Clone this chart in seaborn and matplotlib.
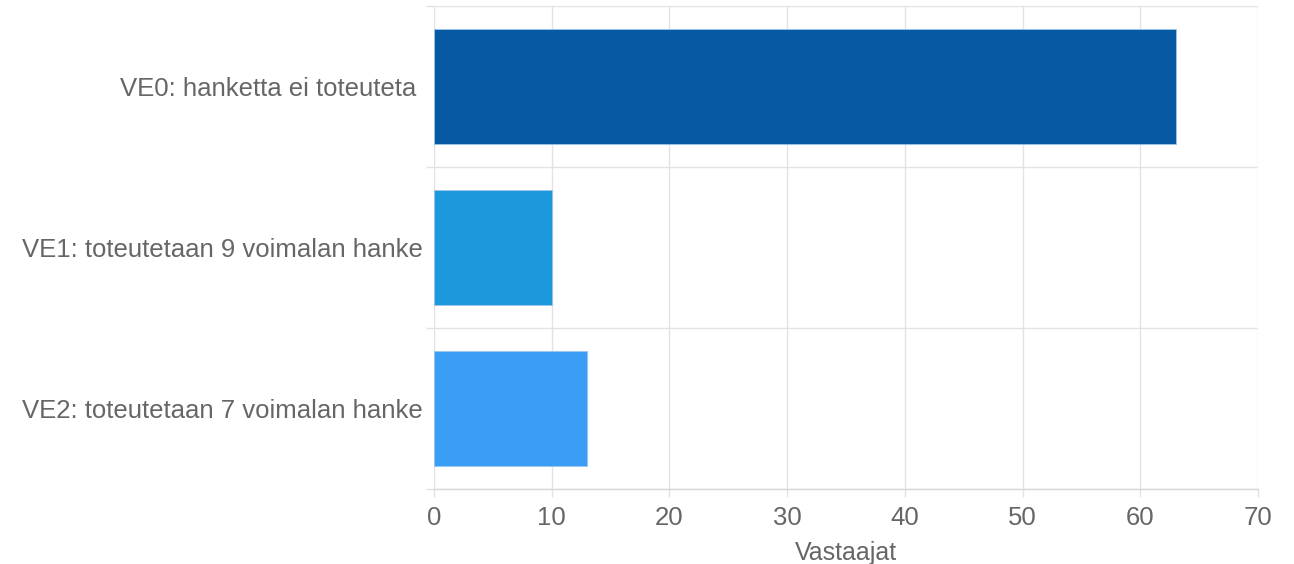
import matplotlib
matplotlib.use("Agg")
import matplotlib.pyplot as plt
import seaborn as sns
import pandas as pd
from matplotlib.ticker import FixedLocator

categories = [
    "VE0: hanketta ei toteuteta ",
    "VE1: toteutetaan 9 voimalan hanke",
    "VE2: toteutetaan 7 voimalan hanke",
]
values = [63, 10, 13]
colors = ["#0859A3", "#1D98DC", "#3A9EF6"]
x_ticks = [0, 10, 20, 30, 40, 50, 60, 70]

sns.set_theme(style="white")
plt.rcParams["font.family"] = ["Liberation Sans", "DejaVu Sans"]

df = pd.DataFrame({"kategoria": categories, "vastaajat": values})

fig = plt.figure(figsize=(12.94, 5.64), dpi=100)
ax = fig.add_axes([0.3354, 0.133, 0.6368, 0.8564])

sns.barplot(data=df, x="vastaajat", y="kategoria", hue="kategoria",
            palette=colors, saturation=1, orient="h", width=0.72, legend=False,
            edgecolor="#9cc4ee", linewidth=0.6, ax=ax, zorder=3)

grid_c = "#e3e3e3"
ax.set_xlim(0, 70)
ax.set_ylim(2.5, -0.5)
ax.set_xticks(x_ticks)
ax.yaxis.set_minor_locator(FixedLocator([-0.5, 0.5, 1.5, 2.5]))
ax.grid(axis="x", color=grid_c, linewidth=1, zorder=0)
ax.grid(axis="y", which="minor", color=grid_c, linewidth=1, zorder=0)
ax.grid(axis="y", which="major", visible=False)

for s in ["top", "right", "left"]:
    ax.spines[s].set_visible(False)
ax.spines["bottom"].set_color("#d6d6d6")
ax.spines["bottom"].set_linewidth(1)

ax.tick_params(axis="x", which="major", length=6, width=1, color=grid_c,
               labelsize=18.5, labelcolor="#666666", pad=6, bottom=True)
ax.tick_params(axis="y", which="major", length=0, labelsize=18.5,
               labelcolor="#666666", pad=8)
ax.tick_params(axis="y", which="minor", length=6, width=1, color=grid_c, left=True)

ax.set_ylabel("")
ax.set_xlabel("Vastaajat", fontsize=18, color="#666666", labelpad=8)

fig.savefig("out.png", dpi=100)
